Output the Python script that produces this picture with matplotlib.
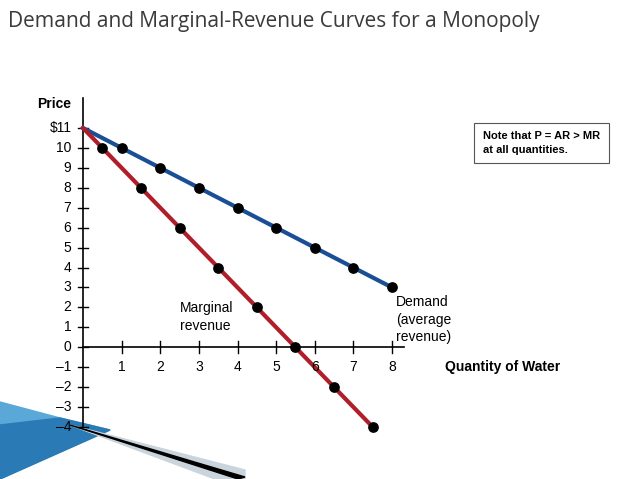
import matplotlib.pyplot as plt
from matplotlib.patches import Polygon

# demand (average revenue) and marginal revenue
demand_q = [1, 2, 3, 4, 5, 6, 7, 8]
demand_p = [10, 9, 8, 7, 6, 5, 4, 3]
mr_q = [0.5, 1.5, 2.5, 3.5, 4.5, 5.5, 6.5, 7.5]
mr_p = [10, 8, 6, 4, 2, 0, -2, -4]
y_ticks = list(range(-4, 12))
y_labels = ["\u20134", "\u20133", "\u20132", "\u20131", "0", "1", "2", "3", "4", "5",
            "6", "7", "8", "9", "10", "$11"]
x_ticks = [1, 2, 3, 4, 5, 6, 7, 8]

W, H = 638, 479
fig = plt.figure(figsize=(6.38, 4.79), dpi=100)

# bottom-left decoration (figure pixel coordinates)
deco = fig.add_axes([0, 0, 1, 1], zorder=0)
deco.set_xlim(0, W)
deco.set_ylim(H, 0)
deco.axis("off")
deco.add_patch(Polygon([(0, 402), (60, 418), (110, 430), (0, 479)], color="#5aa8d8"))
deco.add_patch(Polygon([(0, 425), (60, 418), (110, 430), (0, 479)], color="#2a7ab5"))
deco.add_patch(Polygon([(70, 425), (245, 470), (245, 479), (215, 479)], color="#c9d4dc"))
deco.add_patch(Polygon([(70, 425), (245, 477), (238, 479)], color="black"))

x0, x1 = 83, 392
ytop, ybot = 128, 427
ax = fig.add_axes([x0 / W, 1 - ybot / H, (x1 - x0) / W, (ybot - ytop) / H], zorder=1)
ax.set_xlim(0, 8)
ax.set_ylim(-4, 11)
ax.patch.set_alpha(0)
for s in ax.spines.values():
    s.set_visible(False)
ax.set_xticks([])
ax.set_yticks([])

# axes lines
ax.plot([0, 0], [-4, 12.5], color="black", lw=1.2, clip_on=False)
ax.plot([0, 8.3], [0, 0], color="black", lw=1.2, clip_on=False)
for y, lab in zip(y_ticks, y_labels):
    ax.plot([-0.12, 0.12], [y, y], color="black", lw=1, clip_on=False)
    ax.text(-0.3, y, lab, ha="right", va="center", fontsize=10, fontname="Liberation Sans")
for x in x_ticks:
    ax.plot([x, x], [-0.3, 0.3], color="black", lw=1, clip_on=False)
    ax.text(x, -1, str(x), ha="center", va="center", fontsize=10, fontname="Liberation Sans")
ax.text(-0.3, 12.2, "Price", ha="right", va="center", fontsize=10, fontweight="bold",
        fontname="Liberation Sans")
ax.text(12.35, -1, "Quantity of Water", ha="right", va="center", fontsize=10,
        fontweight="bold", fontname="Liberation Sans")

ax.plot([0] + demand_q, [11] + demand_p, color="#1a4f95", lw=3, clip_on=False)
ax.plot([0] + mr_q, [11] + mr_p, color="#b01e2a", lw=3, clip_on=False)
ax.scatter(demand_q, demand_p, s=45, color="black", zorder=3, clip_on=False)
ax.scatter(mr_q, mr_p, s=45, color="black", zorder=3, clip_on=False)

ax.text(8.1, 2.6, "Demand\n(average\nrevenue)", ha="left", va="top", fontsize=10,
        fontname="Liberation Sans", linespacing=1.3)
ax.text(2.5, 2.3, "Marginal\nrevenue", ha="left", va="top", fontsize=10,
        fontname="Liberation Sans", linespacing=1.3)

fig.text(483 / W, 1 - 143 / H, "Note that P = AR > MR\nat all quantities.",
         ha="left", va="center", fontsize=8, fontweight="bold",
         fontname="Liberation Sans", zorder=3, linespacing=1.4,
         bbox=dict(boxstyle="square,pad=0.8", fc="white", ec="#555555", lw=0.8))

fig.text(8 / W, 1 - 22 / H, "Demand and Marginal-Revenue Curves for a Monopoly",
         ha="left", va="center", fontsize=15, color="#3b3b3b", fontname="Open Sans")

fig.savefig("out.png", dpi=100)
